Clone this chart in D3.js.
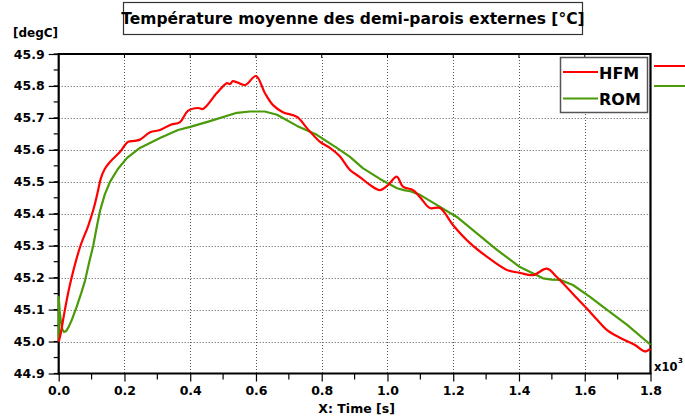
<!DOCTYPE html>
<html><head><meta charset="utf-8">
<script src="https://cdn.jsdelivr.net/npm/d3@7"></script>
<style>body{margin:0;background:#fff}svg{display:block}text{font-family:"DejaVu Sans",Verdana,sans-serif;font-weight:bold;fill:#000}</style>
</head><body><svg id="c" width="685" height="419"></svg>
<script>
const title = "Température moyenne des demi-parois externes [°C]";
const yUnit = "[degC]";
const xLabel = "X: Time [s]";
const xMultiplier = "x10";
const xExponent = "3";
const seriesNames = ["HFM", "ROM"];
const seriesColors = ["#ff0000", "#4a9a0a"];
const xTicks = [0, 0.2, 0.4, 0.6, 0.8, 1.0, 1.2, 1.4, 1.6, 1.8];
const yTicks = [44.9, 45.0, 45.1, 45.2, 45.3, 45.4, 45.5, 45.6, 45.7, 45.8, 45.9];
const hfmT = [0,0.004,0.019,0.034,0.065,0.089,0.106,0.118,0.128,0.14,0.156,0.186,0.211,0.23,0.247,0.278,0.308,0.339,0.369,0.393,0.424,0.439,0.481,0.512,0.521,0.53,0.567,0.6,0.627,0.652,0.682,0.725,0.755,0.795,0.825,0.855,0.886,0.916,0.947,0.977,1.002,1.028,1.047,1.078,1.099,1.129,1.16,1.199,1.251,1.303,1.363,1.403,1.443,1.485,1.515,1.576,1.605,1.636,1.668,1.707,1.753,1.783,1.8];
const hfmV = [45.0,45.015,45.10,45.177,45.296,45.36,45.415,45.465,45.51,45.54,45.562,45.593,45.625,45.628,45.632,45.655,45.662,45.678,45.687,45.722,45.731,45.728,45.778,45.809,45.806,45.815,45.803,45.831,45.778,45.740,45.718,45.703,45.668,45.625,45.606,45.58,45.537,45.515,45.49,45.474,45.49,45.516,45.485,45.474,45.452,45.418,45.418,45.365,45.308,45.265,45.224,45.215,45.208,45.228,45.202,45.136,45.105,45.07,45.036,45.012,44.989,44.969,44.978];
const romT = [0,0,0.003,0.007,0.011,0.016,0.022,0.03,0.04,0.055,0.068,0.08,0.092,0.105,0.116,0.126,0.14,0.156,0.18,0.208,0.247,0.308,0.363,0.4,0.46,0.542,0.582,0.627,0.664,0.725,0.785,0.846,0.886,0.925,0.977,1.029,1.05,1.068,1.099,1.151,1.211,1.26,1.333,1.403,1.473,1.5,1.525,1.564,1.616,1.668,1.729,1.8];
const romV = [45.0,45.14,45.095,45.06,45.038,45.03,45.032,45.045,45.068,45.11,45.15,45.19,45.245,45.30,45.36,45.41,45.46,45.5,45.54,45.575,45.606,45.637,45.662,45.672,45.69,45.716,45.72,45.72,45.71,45.675,45.647,45.606,45.578,45.543,45.509,45.48,45.474,45.471,45.459,45.427,45.39,45.349,45.287,45.233,45.198,45.194,45.193,45.177,45.14,45.099,45.052,44.99];

const svg = d3.select("#c");
const L = 58.7, R = 650.5, T = 54, B = 373.5;
const x = d3.scaleLinear().domain([0, 1.8]).range([L, R]);
const y = d3.scaleLinear().domain([44.9, 45.9]).range([B, T]);

// grid
const grid = svg.append("g").attr("stroke", "#555").attr("stroke-width", 1).attr("stroke-dasharray", "1,2");
grid.selectAll("line.gx").data(xTicks.slice(1, -1)).join("line")
  .attr("x1", d => Math.round(x(d)) + 0.5).attr("x2", d => Math.round(x(d)) + 0.5).attr("y1", T).attr("y2", B);
grid.selectAll("line.gy").data(yTicks.slice(1, -1)).join("line")
  .attr("y1", d => Math.round(y(d)) + 0.5).attr("y2", d => Math.round(y(d)) + 0.5).attr("x1", L).attr("x2", R);

// axes
const yMinor = d3.range(44.9, 45.9001, 0.05);
const yAxis = d3.axisLeft(y).tickValues(yTicks).tickFormat(d3.format(".1f")).tickSize(10).tickPadding(4);
const gy = svg.append("g").attr("transform", `translate(${L},0)`).call(yAxis);
gy.select(".domain").remove();
gy.selectAll(".tick line").attr("stroke", "#000").attr("stroke-width", 1.2);
gy.selectAll("text").style("font-size", "12.5px");
svg.append("g").selectAll("line").data(yMinor).join("line")
  .attr("x1", L - 5).attr("x2", L).attr("y1", d => y(d)).attr("y2", d => y(d)).attr("stroke", "#000").attr("stroke-width", 1.2);

const xAxis = d3.axisBottom(x).tickValues(xTicks).tickFormat(d3.format(".1f")).tickSize(8).tickPadding(5);
const gx = svg.append("g").attr("transform", `translate(0,${B})`).call(xAxis);
gx.select(".domain").remove();
gx.selectAll(".tick line").attr("stroke", "#000").attr("stroke-width", 1.2);
gx.selectAll("text").style("font-size", "12.5px");
const xMinor = d3.range(0.1, 1.8, 0.2);
svg.append("g").selectAll("line").data(xMinor).join("line")
  .attr("x1", d => x(d)).attr("x2", d => x(d)).attr("y1", B).attr("y2", B + 6).attr("stroke", "#000").attr("stroke-width", 1.2);
// top ticks
svg.append("g").selectAll("line").data(xTicks.slice(1, -1)).join("line")
  .attr("x1", d => x(d)).attr("x2", d => x(d)).attr("y1", T).attr("y2", T + 4).attr("stroke", "#000").attr("stroke-width", 1);

// frame
svg.append("path").attr("d", `M${L},${T}H${R}V${B}`).attr("fill", "none").attr("stroke", "#000").attr("stroke-width", 2.2);
svg.append("line").attr("x1", L).attr("x2", L).attr("y1", T - 1).attr("y2", B + 1).attr("stroke", "#000").attr("stroke-width", 2.2);
svg.append("line").attr("x1", L - 1).attr("x2", R + 1).attr("y1", B).attr("y2", B).attr("stroke", "#000").attr("stroke-width", 2.2);

// series (drawn over the frame, as in the reference)
const hfm = hfmT.map((t, i) => [t, hfmV[i]]);
const rom = romT.map((t, i) => [t, romV[i]]);
const lineSmooth = d3.line().x(d => x(d[0])).y(d => y(d[1])).curve(d3.curveCatmullRom.alpha(0.5));
const lineLin = d3.line().x(d => x(d[0])).y(d => y(d[1]));
svg.append("path").datum(rom).attr("d", lineLin).attr("fill", "none").attr("stroke", seriesColors[1]).attr("stroke-width", 2.2).attr("stroke-linejoin", "round");
svg.append("path").datum(hfm).attr("d", lineSmooth).attr("fill", "none").attr("stroke", seriesColors[0]).attr("stroke-width", 2.2);

// labels
svg.append("text").attr("x", 13).attr("y", 37).style("font-size", "12px").text(yUnit);
svg.append("text").attr("x", (L + R) / 2 + 2).attr("y", 413).attr("text-anchor", "middle").style("font-size", "12.5px").text(xLabel);
svg.append("text").attr("x", 654).attr("y", 371).style("font-size", "11.5px").text(xMultiplier);
svg.append("text").attr("x", 678).attr("y", 363).style("font-size", "7px").text(xExponent);

// title
svg.append("rect").attr("x", 123.5).attr("y", 2.5).attr("width", 459).attr("height", 32).attr("fill", "#fff").attr("stroke", "#333").attr("stroke-width", 1.2);
svg.append("text").attr("x", 353).attr("y", 24).attr("text-anchor", "middle").style("font-size", "15.5px").text(title);

// legend
const lg = svg.append("g");
lg.append("rect").attr("x", 560.5).attr("y", 57.5).attr("width", 87).attr("height", 55).attr("fill", "#fff").attr("stroke", "#555").attr("stroke-width", 1.5);
seriesNames.forEach((n, i) => {
  const yy = 72 + i * 26.5;
  lg.append("line").attr("x1", 563).attr("x2", 598).attr("y1", yy).attr("y2", yy).attr("stroke", seriesColors[i]).attr("stroke-width", 2);
  lg.append("text").attr("x", 599).attr("y", yy + 6.5).style("font-size", "16px").text(n);
  svg.append("line").attr("x1", 654).attr("x2", 685).attr("y1", 66 + i * 20).attr("y2", 66 + i * 20).attr("stroke", seriesColors[i]).attr("stroke-width", 2);
});
</script></body></html>
